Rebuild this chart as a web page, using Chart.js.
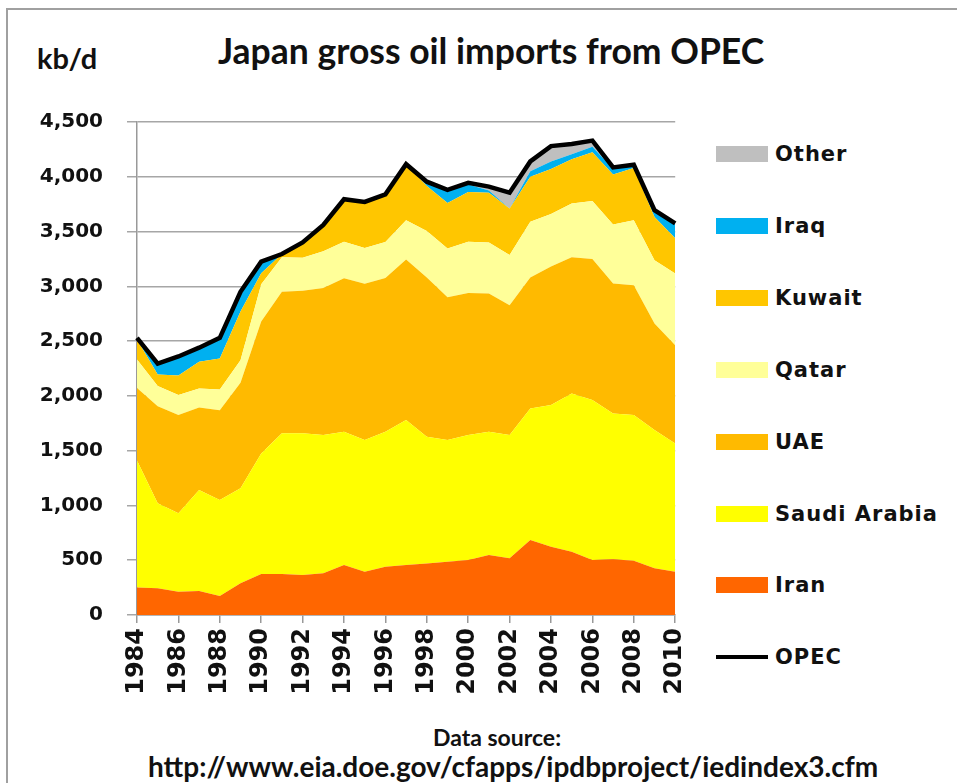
<!DOCTYPE html>
<html>
<head>
<meta charset="utf-8">
<script src="https://cdn.jsdelivr.net/npm/chart.js@4.4.0/dist/chart.umd.min.js"></script>
<style>
  body { margin: 0; background: #fff; width: 957px; height: 783px; overflow: hidden; position: relative; }
  #frame { position: absolute; left: 6px; top: 8px; width: 1000px; height: 1000px; border: 2px solid #a0a0a0; }
  #wrap { position: absolute; left: 0; top: 0; width: 709px; height: 720px; }
  .txt { position: absolute; font-family: Lato, sans-serif; font-weight: bold; color: #111; white-space: nowrap; }
  #title { left: 218px; top: 29px; font-size: 35.5px; }
  #unit { left: 37px; top: 40px; font-size: 29px; }
  #src1 { left: 0; width: 994px; text-align: center; top: 723px; font-size: 23px; }
  #src2 { left: 148px; top: 749px; font-size: 28px; }
  .leg { position: absolute; left: 716px; height: 30px; }
  .leg .sw { position: absolute; left: 0; top: 7px; width: 52px; height: 16px; }
  .leg .ln { position: absolute; left: 0; top: 13px; width: 52px; height: 4px; background: #000; }
  .leg .lb { position: absolute; left: 59px; top: 0; line-height: 30px; font-family: "DejaVu Sans", sans-serif; font-weight: bold; font-size: 21px; letter-spacing: 1px; color: #111; white-space: nowrap; }
</style>
</head>
<body>
<div id="frame"></div>
<div class="txt" id="title">Japan gross oil imports from OPEC</div>
<div class="txt" id="unit">kb/d</div>
<div id="wrap"><canvas id="chart" width="709" height="720"></canvas></div>
<div id="legend"></div>
<div class="txt" id="src1">Data source:</div>
<div class="txt" id="src2">http://www.eia.doe.gov/cfapps/ipdbproject/iedindex3.cfm</div>
<script>
// Years on the x axis
const years = ['1984','1985','1986','1987','1988','1989','1990','1991','1992','1993','1994','1995','1996','1997','1998','1999','2000','2001','2002','2003','2004','2005','2006','2007','2008','2009','2010'];

// Imports by country, kb/d (stacked from the bottom up)
const iran   = [250,245,213,219,173,289,374,374,365,380,456,395,441,456,471,486,502,547,517,684,623,578,502,508,496,426,395];
const saudi  = [1160,775,715,921,876,867,1101,1284,1293,1262,1216,1202,1231,1323,1156,1111,1140,1125,1125,1202,1293,1444,1460,1332,1329,1262,1171];
const uae    = [663,885,897,755,821,964,1205,1292,1302,1343,1402,1426,1404,1466,1453,1303,1298,1263,1186,1194,1264,1243,1288,1186,1186,973,897];
const qatar  = [259,185,184,173,188,205,340,315,300,335,334,327,329,359,425,445,466,465,457,510,480,490,530,539,593,578,655];
const kuwait = [183,105,176,243,284,445,100,30,140,240,387,420,435,511,410,415,454,455,425,410,410,405,445,455,476,395,322];
const iraq   = [15,100,175,129,188,180,105,0,0,0,0,0,0,0,40,120,70,20,0,50,70,45,50,50,25,55,130];
const other  = [0,0,0,0,0,0,0,0,0,0,0,0,0,0,0,0,15,35,145,90,140,95,55,15,5,6,5];
// OPEC total line
const opec   = [2530,2295,2360,2440,2530,2950,3225,3295,3400,3560,3795,3770,3840,4115,3955,3880,3945,3910,3855,4140,4280,4300,4330,4085,4110,3695,3575];

const seriesNames  = ['Iran','Saudi Arabia','UAE','Qatar','Kuwait','Iraq','Other'];
const seriesValues = [iran, saudi, uae, qatar, kuwait, iraq, other];
const seriesColors = ['#FF6600','#FFFF00','#FFBA00','#FFFF99','#FFC600','#00B0F0','#BFBFBF'];

// Area datasets, each filled down to the one below
const datasets = seriesNames.map((name, i) => ({
  label: name,
  data: seriesValues[i],
  backgroundColor: seriesColors[i],
  borderWidth: 0,
  pointRadius: 0,
  fill: i === 0 ? 'origin' : '-1',
  stack: 'countries',
  tension: 0,
}));

datasets.push({
  label: 'OPEC',
  data: opec,
  borderColor: '#000',
  borderWidth: 4.5,
  pointRadius: 0,
  fill: false,
  stack: 'total',
  order: -1,
  tension: 0,
});

Chart.defaults.font.family = '"DejaVu Sans", sans-serif';
Chart.defaults.font.weight = 'bold';
Chart.defaults.color = '#111';

new Chart(document.getElementById('chart').getContext('2d'), {
  type: 'line',
  data: { labels: years, datasets: datasets },
  options: {
    responsive: false,
    animation: false,
    layout: { padding: { top: 122, right: 14, left: 0, bottom: 0 } },
    plugins: { legend: { display: false }, tooltip: { enabled: false } },
    scales: {
      x: {
        offset: false,
        afterFit: (s) => { s.height = 105; },
        grid: {
          drawOnChartArea: false,
          tickLength: 8,
          lineWidth: 1.5,
          color: (ctx) => (ctx.index % 2 === 0 ? '#999' : 'rgba(0,0,0,0)'),
        },
        border: { color: '#999', width: 1.5 },
        ticks: {
          autoSkip: false,
          maxRotation: 90,
          minRotation: 90,
          padding: 5,
          font: { size: 24, weight: 'bold' },
          callback: (v, i) => (i % 2 === 0 ? years[i] : ''),
        },
      },
      y: {
        stacked: true,
        min: 0,
        max: 4500,
        afterFit: (s) => { s.width = 137; },
        grid: { color: '#a6a6a6', lineWidth: 1.5, tickLength: 10 },
        border: { color: '#999', width: 1.5 },
        ticks: {
          stepSize: 500,
          padding: 24,
          font: { size: 20, weight: 'bold' },
          callback: (v) => v.toLocaleString('en-US'),
        },
      },
    },
  },
});

// Legend on the right, top item first
const legend = document.getElementById('legend');
const legendItems = seriesNames.map((n, i) => ({ name: n, color: seriesColors[i] })).reverse();
legendItems.push({ name: 'OPEC', line: true });
legendItems.forEach((item, i) => {
  const row = document.createElement('div');
  row.className = 'leg';
  row.style.top = (139 + i * 71.9) + 'px';
  const mark = document.createElement('div');
  if (item.line) {
    mark.className = 'ln';
  } else {
    mark.className = 'sw';
    mark.style.background = item.color;
  }
  const label = document.createElement('div');
  label.className = 'lb';
  label.textContent = item.name;
  row.appendChild(mark);
  row.appendChild(label);
  legend.appendChild(row);
});
</script>
</body>
</html>
